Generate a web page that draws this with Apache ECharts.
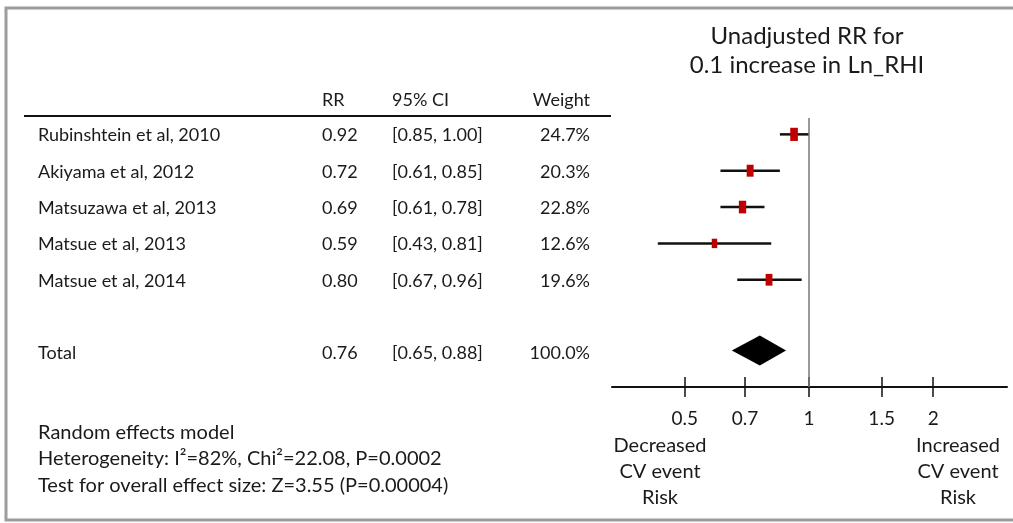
<!DOCTYPE html>
<html><head><meta charset="utf-8">
<script src="https://cdn.jsdelivr.net/npm/echarts@6/dist/echarts.min.js"></script>
<style>html,body{margin:0;padding:0;background:#fff}#c{width:1013px;height:523px}</style>
</head><body><div id="c"></div>
<script>
// ---- data ----
const studies = ['Rubinshtein et al, 2010','Akiyama et al, 2012','Matsuzawa et al, 2013','Matsue et al, 2013','Matsue et al, 2014'];
const rr = [0.92, 0.72, 0.69, 0.59, 0.80];
const ciLow = [0.85, 0.61, 0.61, 0.43, 0.67];
const ciHigh = [1.00, 0.85, 0.78, 0.81, 0.96];
const weights = [24.7, 20.3, 22.8, 12.6, 19.6];
const studyRows = [0, 1, 2, 3, 4];
const totalLabel = 'Total';
const totalRR = [0.76];
const totalLow = [0.65];
const totalHigh = [0.88];
const totalWeight = [100.0];
const totalRow = [6];
const tickValues = [0.5, 0.7, 1, 1.5, 2];
const axisRange = [0.333, 3.02];
const refValue = 1;
const headers = ['RR', '95% CI', 'Weight'];
const titleLines = ['Unadjusted RR for', '0.1 increase in Ln_RHI'];
const noteLines = ['Random effects model', 'Heterogeneity: I\u00B2=82%, Chi\u00B2=22.08, P=0.0002', 'Test for overall effect size: Z=3.55 (P=0.00004)'];
const leftLabel = ['Decreased', 'CV event', 'Risk'];
const rightLabel = ['Increased', 'CV event', 'Risk'];

// ---- build ----
const FONT = 'Lato, "Open Sans", sans-serif';
const TXT = '#1a1a1a';
const ln = Math.log;
const fmtTick = v => String(parseFloat(Math.exp(v).toFixed(2)));

const names = studies.concat([totalLabel]);
const rrAll = rr.concat(totalRR);
const loAll = ciLow.concat(totalLow);
const hiAll = ciHigh.concat(totalHigh);
const wAll = weights.concat(totalWeight);
const rowsAll = studyRows.concat(totalRow);

const yRange = [-0.45, 6.95];
const gridPos = {top: 118, bottom: 136};
const TABLE_FONT = '18px ' + FONT;

const chart = echarts.init(document.getElementById('c'), null, {renderer: 'canvas'});
chart.setOption({
  backgroundColor: '#fff',
  animation: false,
  title: {
    text: titleLines.join('\n'), left: 807, top: 22, padding: 0, textAlign: 'center',
    textStyle: {fontFamily: FONT, fontSize: 24, fontWeight: 'normal', color: TXT, lineHeight: 29}
  },
  grid: [
    {left: 612, right: 6, top: gridPos.top, bottom: gridPos.bottom},
    {left: 0, width: 612, top: gridPos.top, bottom: gridPos.bottom}
  ],
  xAxis: [
    {
      gridIndex: 0, type: 'value', position: 'bottom', min: ln(axisRange[0]), max: ln(axisRange[1]),
      axisLine: {show: true, onZero: false, lineStyle: {color: '#111', width: 2}},
      axisTick: {show: true, inside: false, length: 10, customValues: tickValues.map(ln), lineStyle: {color: '#111', width: 1.5}},
      axisLabel: {show: true, margin: 22, customValues: tickValues.map(ln), formatter: fmtTick,
        fontFamily: FONT, fontSize: 19, color: TXT},
      splitLine: {show: false}
    },
    {
      gridIndex: 0, type: 'value', position: 'bottom', min: ln(axisRange[0]), max: ln(axisRange[1]),
      axisLine: {show: false, onZero: false},
      axisTick: {show: true, inside: true, length: 10, customValues: tickValues.map(ln), lineStyle: {color: '#111', width: 1.5}},
      axisLabel: {show: false},
      splitLine: {show: false}
    },
    {gridIndex: 1, type: 'value', min: 0, max: 612, show: false}
  ],
  yAxis: [
    {gridIndex: 0, type: 'value', inverse: true, min: yRange[0], max: yRange[1], show: false},
    {gridIndex: 1, type: 'value', inverse: true, min: yRange[0], max: yRange[1], show: false}
  ],
  series: [
    {
      type: 'custom', xAxisIndex: 0, yAxisIndex: 0,
      data: studyRows.map((r, i) => [ln(rr[i]), r, ln(ciLow[i]), ln(ciHigh[i]), weights[i]]),
      encode: {x: [0, 2, 3], y: 1},
      renderItem: function (params, api) {
        const y = api.value(1);
        const p = api.coord([api.value(0), y]);
        const l = api.coord([api.value(2), y]);
        const h = api.coord([api.value(3), y]);
        const w = api.value(4);
        const sh = 2.65 * Math.sqrt(w), sw = sh * 0.58;
        return {type: 'group', children: [
          {type: 'line', shape: {x1: l[0], y1: l[1], x2: h[0], y2: h[1]}, style: {stroke: '#111', lineWidth: 2.5}},
          {type: 'rect', shape: {x: p[0] - sw / 2, y: p[1] - sh / 2, width: sw, height: sh}, style: {fill: '#c00000'}}
        ]};
      },
      markLine: {
        silent: true, symbol: 'none', label: {show: false},
        lineStyle: {color: '#777', width: 1.5, type: 'solid'},
        data: [{xAxis: ln(refValue)}]
      },
      z: 3
    },
    {
      type: 'custom', xAxisIndex: 0, yAxisIndex: 0,
      data: totalRow.map((r, i) => [ln(totalRR[i]), r, ln(totalLow[i]), ln(totalHigh[i])]),
      encode: {x: [0, 2, 3], y: 1},
      renderItem: function (params, api) {
        const y = api.value(1);
        const p = api.coord([api.value(0), y]);
        const l = api.coord([api.value(2), y]);
        const h = api.coord([api.value(3), y]);
        const hh = 15;
        return {type: 'polygon', shape: {points: [[l[0], p[1] - 2], [p[0], p[1] - 2 - hh], [h[0], p[1] - 2], [p[0], p[1] - 2 + hh]]},
          style: {fill: '#000'}};
      },
      z: 3
    },
    {
      type: 'custom', xAxisIndex: 2, yAxisIndex: 1,
      data: rowsAll.map(r => [0, r]),
      encode: {x: 0, y: 1},
      renderItem: function (params, api) {
        const i = params.dataIndex;
        const y = api.coord([0, api.value(1)])[1] + 1;
        const mk = (x, text, align) => ({type: 'text', x: api.coord([x, 0])[0], y: y,
          style: {text: text, fill: TXT, font: TABLE_FONT, align: align, verticalAlign: 'middle'}});
        return {type: 'group', children: [
          mk(38, names[i], 'left'),
          mk(322, rrAll[i].toFixed(2), 'left'),
          mk(392, '[' + loAll[i].toFixed(2) + ', ' + hiAll[i].toFixed(2) + ']', 'left'),
          mk(590, wAll[i].toFixed(1) + '%', 'right')
        ]};
      }
    }
  ],
  graphic: [
    {type: 'rect', shape: {x: 6, y: 8, width: 1030, height: 512}, style: {fill: 'none', stroke: '#9c9c9c', lineWidth: 3}, z: 10},
    {type: 'text', x: 322, y: 100, style: {text: headers[0], fill: TXT, font: TABLE_FONT, align: 'left', verticalAlign: 'middle'}},
    {type: 'text', x: 392, y: 100, style: {text: headers[1], fill: TXT, font: TABLE_FONT, align: 'left', verticalAlign: 'middle'}},
    {type: 'text', x: 590, y: 100, style: {text: headers[2], fill: TXT, font: TABLE_FONT, align: 'right', verticalAlign: 'middle'}},
    {type: 'line', shape: {x1: 24, y1: 116, x2: 611, y2: 116}, style: {stroke: '#111', lineWidth: 2}},
    {type: 'text', x: 38, y: 459, style: {text: noteLines.join('\n'), fill: TXT, font: '20px ' + FONT, lineHeight: 26.5, align: 'left', verticalAlign: 'middle'}},
    {type: 'text', x: 660, y: 472, style: {text: leftLabel.join('\n'), fill: TXT, font: '20px ' + FONT, lineHeight: 26, align: 'center', verticalAlign: 'middle'}},
    {type: 'text', x: 958, y: 472, style: {text: rightLabel.join('\n'), fill: TXT, font: '20px ' + FONT, lineHeight: 26, align: 'center', verticalAlign: 'middle'}}
  ]
});
</script></body></html>
